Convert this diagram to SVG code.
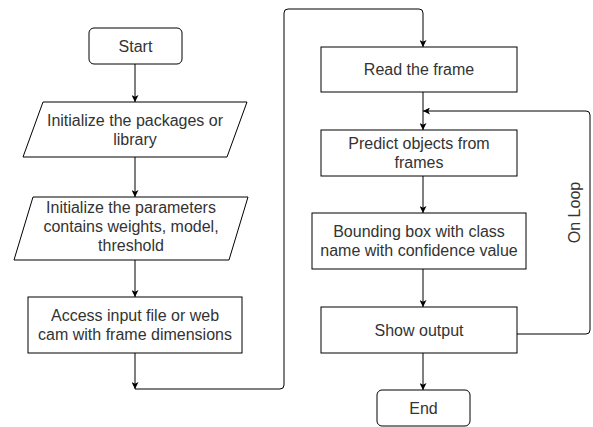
<svg xmlns="http://www.w3.org/2000/svg" width="593" height="427" viewBox="0 0 593 427">
<style>
.shape{fill:#fff;stroke:#000;stroke-width:1}
.lbl{font-family:"Liberation Sans",Arial,sans-serif;font-size:16px;fill:#333;text-anchor:middle}
.conn{fill:none;stroke:#000;stroke-width:1}
</style>
<defs>
<marker id="ah" viewBox="0 0 10 10" refX="10" refY="5" markerWidth="7" markerHeight="7" markerUnits="userSpaceOnUse" orient="auto">
<path d="M0,0 L10,5 L0,10 L2.5,5 Z" fill="#000"/>
</marker>
</defs>
<rect width="593" height="427" fill="#fff"/>
<g id="connectors">
<path class="conn" d="M135,64 V102" marker-end="url(#ah)"/>
<path class="conn" d="M135,157 V197" marker-end="url(#ah)"/>
<path class="conn" d="M135,260 V297" marker-end="url(#ah)"/>
<path class="conn" d="M135,353 V389" marker-end="url(#ah)"/>
<path class="conn" d="M135,389 H280 Q284,389 284,385 V13 Q284,9 288,9 H419 Q423,9 423,13 V47" marker-end="url(#ah)"/>
<path class="conn" d="M423,92 V130" marker-end="url(#ah)"/>
<path class="conn" d="M423,176 V213" marker-end="url(#ah)"/>
<path class="conn" d="M423,269 V307" marker-end="url(#ah)"/>
<path class="conn" d="M423,353 V390" marker-end="url(#ah)"/>
<path class="conn" d="M517,334 H586 Q590,334 590,330 V115 Q590,111 586,111 H423" marker-end="url(#ah)"/>
<text class="lbl" transform="translate(580,212.5) rotate(-90)">On Loop</text>
</g>
<g id="start">
<rect class="shape" x="89" y="28" width="93" height="36" rx="5"/>
<text class="lbl" x="135.5" y="52">Start</text>
</g>
<g id="init-packages">
<polygon class="shape" points="43,102 247,102 227,157 23,157"/>
<text class="lbl" x="135" y="125.5">Initialize the packages or</text>
<text class="lbl" x="135" y="145">library</text>
</g>
<g id="init-params">
<polygon class="shape" points="33,197 248,197 229,260 14,260"/>
<text class="lbl" x="131" y="213">Initialize the parameters</text>
<text class="lbl" x="131" y="232.2">contains weights, model,</text>
<text class="lbl" x="131" y="251.4">threshold</text>
</g>
<g id="access-input">
<rect class="shape" x="28" y="297" width="214" height="56"/>
<text class="lbl" x="135" y="321">Access input file or web</text>
<text class="lbl" x="135" y="340.2">cam with frame dimensions</text>
</g>
<g id="read-frame">
<rect class="shape" x="321" y="47" width="196" height="45"/>
<text class="lbl" x="419" y="75">Read the frame</text>
</g>
<g id="predict">
<rect class="shape" x="321" y="130" width="196" height="46"/>
<text class="lbl" x="419" y="149">Predict objects from</text>
<text class="lbl" x="419" y="168.2">frames</text>
</g>
<g id="bounding-box">
<rect class="shape" x="312" y="213" width="214" height="56"/>
<text class="lbl" x="419" y="237">Bounding box with class</text>
<text class="lbl" x="419" y="256.2">name with confidence value</text>
</g>
<g id="show-output">
<rect class="shape" x="321" y="307" width="196" height="46"/>
<text class="lbl" x="419" y="336">Show output</text>
</g>
<g id="end">
<rect class="shape" x="377" y="390" width="93" height="36" rx="5"/>
<text class="lbl" x="423.5" y="414">End</text>
</g>
</svg>
